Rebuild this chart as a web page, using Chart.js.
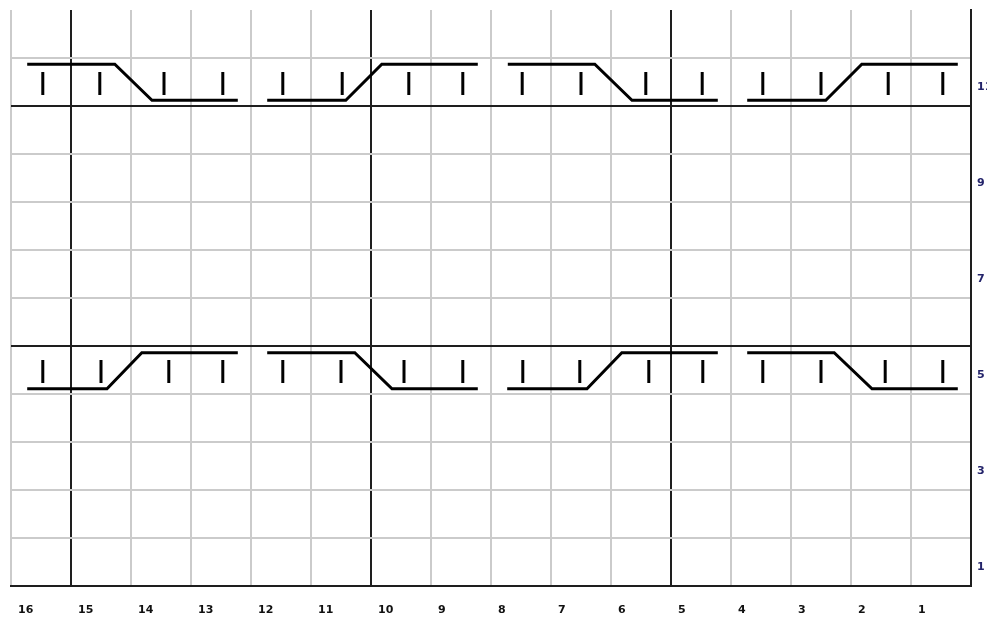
<!DOCTYPE html>
<html>
<head>
<meta charset="utf-8">
<script src="https://cdn.jsdelivr.net/npm/chart.js@4"></script>
<style>
    html, body { margin: 0; padding: 0; background: #fff; }
    #wrap { width: 987px; height: 618px; position: relative; }
</style>
</head>
<body>
<div id="wrap"><canvas id="chart"></canvas></div>
<script>
// Column numbers run 16 -> 1 from left to right
const xLabels = [1, 2, 3, 4, 5, 6, 7, 8, 9, 10, 11, 12, 13, 14, 15, 16];
const yLabels = [1, 3, 5, 7, 9, 11];
const xHeavy = [5, 10, 15];
const yHeavy = [5, 10];

// Upper waveform (null = gap between groups)
const topWaveX = [15.73, 14.27, 13.65, 12.22, null, 11.73, 10.42, 9.82, 8.22, null, 7.72, 6.27, 5.65, 4.22, null, 3.73, 2.42, 1.82, 0.22];
const topWaveY = [10.87, 10.87, 10.12, 10.12, null, 10.12, 10.12, 10.87, 10.87, null, 10.87, 10.87, 10.12, 10.12, null, 10.12, 10.12, 10.87, 10.87];

// Lower waveform
const bottomWaveX = [15.73, 14.40, 13.82, 12.22, null, 11.73, 10.27, 9.65, 8.22, null, 7.73, 6.40, 5.82, 4.22, null, 3.73, 2.28, 1.65, 0.22];
const bottomWaveY = [4.11, 4.11, 4.86, 4.86, null, 4.86, 4.86, 4.11, 4.11, null, 4.11, 4.11, 4.86, 4.86, null, 4.86, 4.86, 4.11, 4.11];

// Bit markers
const topTickX = [15.47, 14.52, 13.45, 12.47, 11.47, 10.48, 9.37, 8.47, 7.48, 6.50, 5.42, 4.48, 3.47, 2.50, 1.38, 0.47];
const bottomTickX = [15.47, 14.50, 13.37, 12.47, 11.47, 10.50, 9.45, 8.47, 7.47, 6.52, 5.37, 4.47, 3.47, 2.50, 1.43, 0.47];
const topTickY = [10.23, 10.71];
const bottomTickY = [4.23, 4.71];

function wavePoints(xs, ys) {
    return xs.map((x, i) => ({ x: x, y: ys[i] }));
}

function tickPoints(xs, ySpan) {
    const pts = [];
    xs.forEach(x => {
        pts.push({ x: x, y: ySpan[0] });
        pts.push({ x: x, y: ySpan[1] });
        pts.push({ x: x, y: null });
    });
    return pts;
}

const lineStyle = {
    borderColor: '#000',
    borderWidth: 3,
    pointRadius: 0,
    tension: 0,
    spanGaps: false,
    fill: false
};

const labelFont = { family: 'DejaVu Sans', size: 11, weight: 'bold' };

new Chart(document.getElementById('chart'), {
    type: 'line',
    data: {
        datasets: [
            { ...lineStyle, data: wavePoints(topWaveX, topWaveY) },
            { ...lineStyle, data: wavePoints(bottomWaveX, bottomWaveY) },
            { ...lineStyle, data: tickPoints(topTickX, topTickY) },
            { ...lineStyle, data: tickPoints(bottomTickX, bottomTickY) }
        ]
    },
    options: {
        responsive: true,
        maintainAspectRatio: false,
        animation: false,
        layout: { padding: { left: 11, top: 10, right: 0, bottom: 0 } },
        plugins: {
            legend: { display: false },
            tooltip: { enabled: false }
        },
        scales: {
            x: {
                type: 'linear',
                reverse: true,
                min: 0,
                max: 16,
                afterFit: (scale) => {
                    scale.height = 32;
                    scale.paddingLeft = 0;
                    scale.paddingRight = 0;
                },
                grid: {
                    drawTicks: false,
                    lineWidth: 2,
                    color: (ctx) => xHeavy.includes(ctx.tick.value) ? '#1e1e1e' : '#cbcbcb'
                },
                border: { color: '#1e1e1e', width: 2 },
                ticks: {
                    stepSize: 1,
                    autoSkip: false,
                    maxRotation: 0,
                    align: 'start',
                    labelOffset: 7,
                    padding: 18,
                    color: '#111',
                    font: labelFont,
                    callback: (value) => xLabels.includes(value) ? String(value) : ''
                }
            },
            y: {
                type: 'linear',
                position: 'right',
                min: 0,
                max: 12,
                afterFit: (scale) => {
                    scale.width = 16;
                    scale.paddingTop = 0;
                    scale.paddingBottom = 0;
                },
                grid: {
                    drawTicks: false,
                    lineWidth: 2,
                    color: (ctx) => {
                        if (ctx.tick.value === 12) return 'rgba(0,0,0,0)';
                        return yHeavy.includes(ctx.tick.value) ? '#1e1e1e' : '#cbcbcb';
                    }
                },
                border: { color: '#1e1e1e', width: 2 },
                ticks: {
                    stepSize: 1,
                    autoSkip: false,
                    labelOffset: 29,
                    padding: 6,
                    color: '#23236a',
                    font: labelFont,
                    callback: (value) => yLabels.includes(value) ? String(value) : ''
                }
            }
        }
    }
});
</script>
</body>
</html>
